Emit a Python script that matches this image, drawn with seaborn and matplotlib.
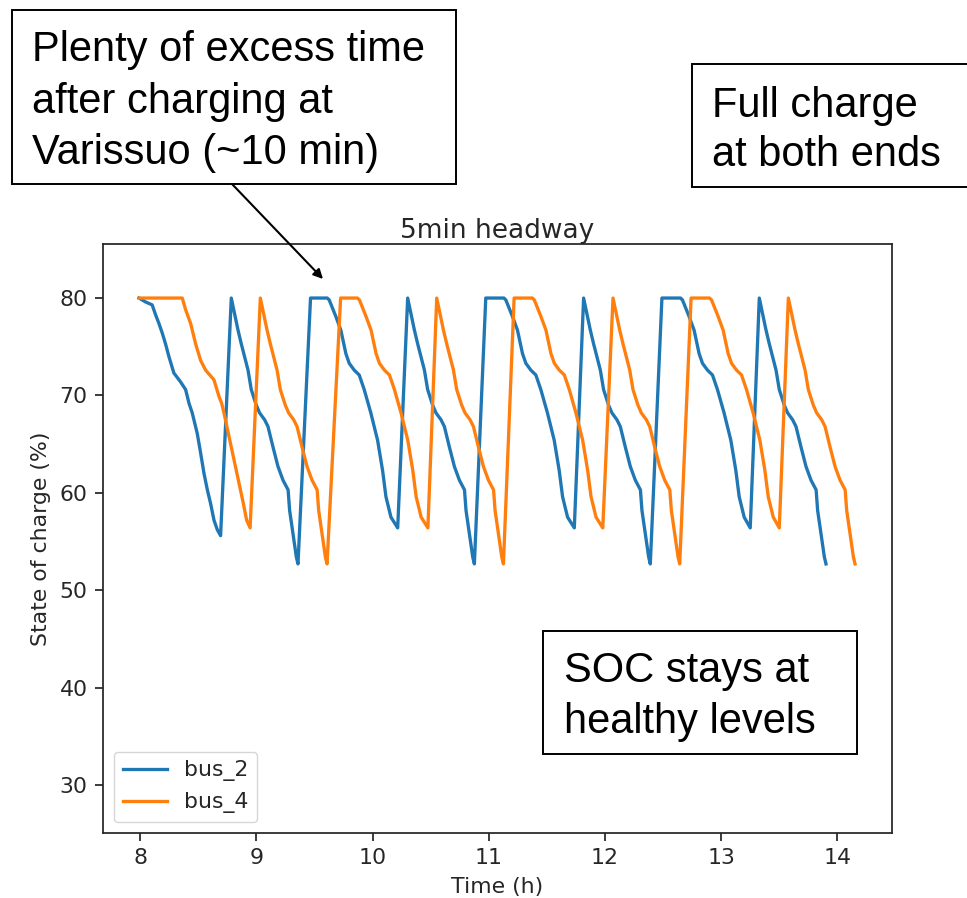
import matplotlib
matplotlib.use("Agg")
import matplotlib.pyplot as plt
from matplotlib.patches import Rectangle, FancyArrowPatch
import pandas as pd
import seaborn as sns

# ---- state of charge traces (time in hours, SOC in %) ----
bus_2_time = [
    7.990, 8.046, 8.103, 8.132, 8.161, 8.190, 8.218, 8.247, 8.290, 8.347,
    8.391, 8.420, 8.448, 8.491, 8.520, 8.549, 8.578, 8.606, 8.635, 8.664, 8.692,
    8.784, 8.812, 8.842, 8.870, 8.898, 8.928, 8.956, 8.999, 9.028, 9.071,
    9.100, 9.143, 9.186, 9.229, 9.273, 9.286, 9.315, 9.344, 9.358,
    9.466, 9.610, 9.627, 9.684, 9.727, 9.770, 9.799, 9.842, 9.885, 9.928,
    9.985, 10.043, 10.086, 10.115, 10.158, 10.216,
    10.302, 10.330, 10.360, 10.388, 10.416, 10.446, 10.474, 10.517, 10.546, 10.589,
    10.618, 10.661, 10.704, 10.747, 10.791, 10.804, 10.833, 10.862, 10.876,
    10.974, 11.130, 11.147, 11.204, 11.247, 11.290, 11.319, 11.362, 11.405, 11.448,
    11.505, 11.563, 11.606, 11.635, 11.678, 11.736,
    11.816, 11.844, 11.874, 11.902, 11.930, 11.960, 11.988, 12.031, 12.060, 12.103,
    12.132, 12.175, 12.218, 12.261, 12.305, 12.318, 12.347, 12.376, 12.390,
    12.490, 12.650, 12.667, 12.724, 12.767, 12.810, 12.839, 12.882, 12.925, 12.968,
    13.025, 13.083, 13.126, 13.155, 13.198, 13.250,
    13.328, 13.356, 13.386, 13.414, 13.442, 13.472, 13.500, 13.543, 13.572, 13.615,
    13.644, 13.687, 13.730, 13.773, 13.817, 13.830, 13.859, 13.888, 13.902,
]
bus_2_soc = [
    80.0, 79.6, 79.3, 78.3, 77.4, 76.4, 75.3, 74.0, 72.3, 71.4,
    70.6, 69.2, 68.2, 66.1, 64.1, 62.0, 60.3, 58.9, 57.2, 56.2, 55.6,
    80.0, 78.4, 76.7, 75.3, 74.0, 72.6, 70.6, 69.0, 68.2, 67.5,
    66.8, 64.7, 62.7, 61.3, 60.3, 58.2, 55.8, 53.4, 52.7,
    80.0, 80.0, 79.8, 78.1, 76.7, 74.3, 73.3, 72.6, 72.1, 70.6,
    68.2, 65.4, 62.3, 59.6, 57.5, 56.4,
    80.0, 78.4, 76.7, 75.3, 74.0, 72.6, 70.6, 69.0, 68.2, 67.5,
    66.8, 64.7, 62.7, 61.3, 60.3, 58.2, 55.8, 53.4, 52.7,
    80.0, 80.0, 79.8, 78.1, 76.7, 74.3, 73.3, 72.6, 72.1, 70.6,
    68.2, 65.4, 62.3, 59.6, 57.5, 56.4,
    80.0, 78.4, 76.7, 75.3, 74.0, 72.6, 70.6, 69.0, 68.2, 67.5,
    66.8, 64.7, 62.7, 61.3, 60.3, 58.2, 55.8, 53.4, 52.7,
    80.0, 80.0, 79.8, 78.1, 76.7, 74.3, 73.3, 72.6, 72.1, 70.6,
    68.2, 65.4, 62.3, 59.6, 57.5, 56.4,
    80.0, 78.4, 76.7, 75.3, 74.0, 72.6, 70.6, 69.0, 68.2, 67.5,
    66.8, 64.7, 62.7, 61.3, 60.3, 58.2, 55.8, 53.4, 52.7,
]

bus_4_time = [
    7.990, 8.362, 8.391, 8.434, 8.477, 8.520, 8.563, 8.635, 8.678, 8.701,
    8.721, 8.759, 8.802, 8.845, 8.888, 8.916, 8.946,
    9.034, 9.062, 9.092, 9.120, 9.148, 9.178, 9.206, 9.249, 9.278, 9.321,
    9.350, 9.393, 9.436, 9.479, 9.523, 9.536, 9.565, 9.594, 9.608,
    9.725, 9.870, 9.887, 9.944, 9.987, 10.030, 10.059, 10.102, 10.145, 10.188,
    10.245, 10.303, 10.346, 10.375, 10.418, 10.476,
    10.552, 10.580, 10.610, 10.638, 10.666, 10.696, 10.724, 10.767, 10.796, 10.839,
    10.868, 10.911, 10.954, 10.997, 11.041, 11.054, 11.083, 11.112, 11.126,
    11.218, 11.375, 11.392, 11.449, 11.492, 11.535, 11.564, 11.607, 11.650, 11.693,
    11.750, 11.808, 11.851, 11.880, 11.923, 11.981,
    12.069, 12.097, 12.127, 12.155, 12.183, 12.213, 12.241, 12.284, 12.313, 12.356,
    12.385, 12.428, 12.471, 12.514, 12.558, 12.571, 12.600, 12.629, 12.643,
    12.741, 12.900, 12.917, 12.974, 13.017, 13.060, 13.089, 13.132, 13.175, 13.218,
    13.275, 13.333, 13.376, 13.405, 13.448, 13.500,
    13.578, 13.606, 13.636, 13.664, 13.692, 13.722, 13.750, 13.793, 13.822, 13.865,
    13.894, 13.937, 13.980, 14.023, 14.067, 14.080, 14.109, 14.138, 14.152,
]
bus_4_soc = [
    80.0, 80.0, 78.8, 77.4, 75.3, 73.6, 72.6, 71.6, 69.9, 69.2,
    68.2, 66.1, 63.7, 61.3, 58.9, 57.2, 56.4,
    80.0, 78.4, 76.7, 75.3, 74.0, 72.6, 70.6, 69.0, 68.2, 67.5,
    66.8, 64.7, 62.7, 61.3, 60.3, 58.2, 55.8, 53.4, 52.7,
    80.0, 80.0, 79.8, 78.1, 76.7, 74.3, 73.3, 72.6, 72.1, 70.6,
    68.2, 65.4, 62.3, 59.6, 57.5, 56.4,
    80.0, 78.4, 76.7, 75.3, 74.0, 72.6, 70.6, 69.0, 68.2, 67.5,
    66.8, 64.7, 62.7, 61.3, 60.3, 58.2, 55.8, 53.4, 52.7,
    80.0, 80.0, 79.8, 78.1, 76.7, 74.3, 73.3, 72.6, 72.1, 70.6,
    68.2, 65.4, 62.3, 59.6, 57.5, 56.4,
    80.0, 78.4, 76.7, 75.3, 74.0, 72.6, 70.6, 69.0, 68.2, 67.5,
    66.8, 64.7, 62.7, 61.3, 60.3, 58.2, 55.8, 53.4, 52.7,
    80.0, 80.0, 79.8, 78.1, 76.7, 74.3, 73.3, 72.6, 72.1, 70.6,
    68.2, 65.4, 62.3, 59.6, 57.5, 56.4,
    80.0, 78.4, 76.7, 75.3, 74.0, 72.6, 70.6, 69.0, 68.2, 67.5,
    66.8, 64.7, 62.7, 61.3, 60.3, 58.2, 55.8, 53.4, 52.7,
]

bus_names = ["bus_2", "bus_4"]
x_ticks = [8, 9, 10, 11, 12, 13, 14]
y_ticks = [30, 40, 50, 60, 70, 80]

title = "5min headway"
x_label = "Time (h)"
y_label = "State of charge (%)"

note_excess = ["Plenty of excess time", "after charging at", "Varissuo (~10 min)"]
note_full = ["Full charge", "at both ends"]
note_soc = ["SOC stays at", "healthy levels"]

# ---- long-form table for seaborn ----
df = pd.concat([
    pd.DataFrame({"time": bus_2_time, "soc": bus_2_soc, "bus": bus_names[0]}),
    pd.DataFrame({"time": bus_4_time, "soc": bus_4_soc, "bus": bus_names[1]}),
], ignore_index=True)

S = 1.58  # scale of the plot styling
plt.rcParams.update({
    "font.family": "DejaVu Sans",
    "axes.linewidth": 0.8 * S,
    "xtick.major.width": 0.8 * S,
    "ytick.major.width": 0.8 * S,
    "xtick.major.size": 3.5 * S,
    "ytick.major.size": 3.5 * S,
    "xtick.major.pad": 3.5 * S,
    "ytick.major.pad": 3.5 * S,
    "xtick.labelsize": 10 * S,
    "ytick.labelsize": 10 * S,
    "axes.labelsize": 10 * S,
    "axes.titlesize": 12 * S,
    "axes.edgecolor": "#262626",
    "xtick.color": "#262626",
    "ytick.color": "#262626",
    "text.color": "#262626",
    "axes.labelcolor": "#262626",
})

W, H = 967, 898
fig = plt.figure(figsize=(W / 100, H / 100), dpi=100)


def fx(px):
    return px / W


def fy(py):
    return 1 - py / H


ax = fig.add_axes([fx(103), fy(833), fx(892) - fx(103), fy(244) - fy(833)])

sns.lineplot(
    data=df, x="time", y="soc", hue="bus", hue_order=bus_names,
    palette=["#1f77b4", "#ff7f0e"], estimator=None, sort=False,
    linewidth=1.5 * S, ax=ax,
)

ax.set_xlim(7.68, 14.47)
ax.set_ylim(25.07, 85.55)
ax.set_xticks(x_ticks)
ax.set_yticks(y_ticks)
ax.set_title(title, pad=4.5)
ax.set_xlabel(x_label, labelpad=4 * S)
ax.set_ylabel(y_label, labelpad=4 * S)

handles, labels = ax.get_legend_handles_labels()
ax.legend(handles, labels, loc="lower left", fontsize=10 * S,
          borderaxespad=0.5, handlelength=2.0)

# ---- callout boxes on the figure ----
box_font = dict(family="Liberation Sans", size=30, color="black")


def callout(x0, y0, x1, y1, tx, baselines, lines):
    fig.add_artist(Rectangle((fx(x0), fy(y1)), fx(x1) - fx(x0), fy(y0) - fy(y1),
                             transform=fig.transFigure, facecolor="white",
                             edgecolor="black", linewidth=1.4, zorder=5))
    for yb, line in zip(baselines, lines):
        fig.text(fx(tx), fy(yb), line, ha="left", va="baseline",
                 zorder=6, **box_font)


callout(12, 10, 456, 184, 32, [61, 113, 164], note_excess)
callout(692, 64, 990, 187, 712, [117, 166], note_full)
callout(543, 631, 857, 754, 564, [682, 733], note_soc)

fig.add_artist(FancyArrowPatch(
    (fx(232), fy(184)), (fx(323), fy(279)), transform=fig.transFigure,
    arrowstyle="-|>", mutation_scale=14, color="black", linewidth=1.5,
    shrinkA=0, shrinkB=0, zorder=6))

fig.savefig("out.png", dpi=100)
